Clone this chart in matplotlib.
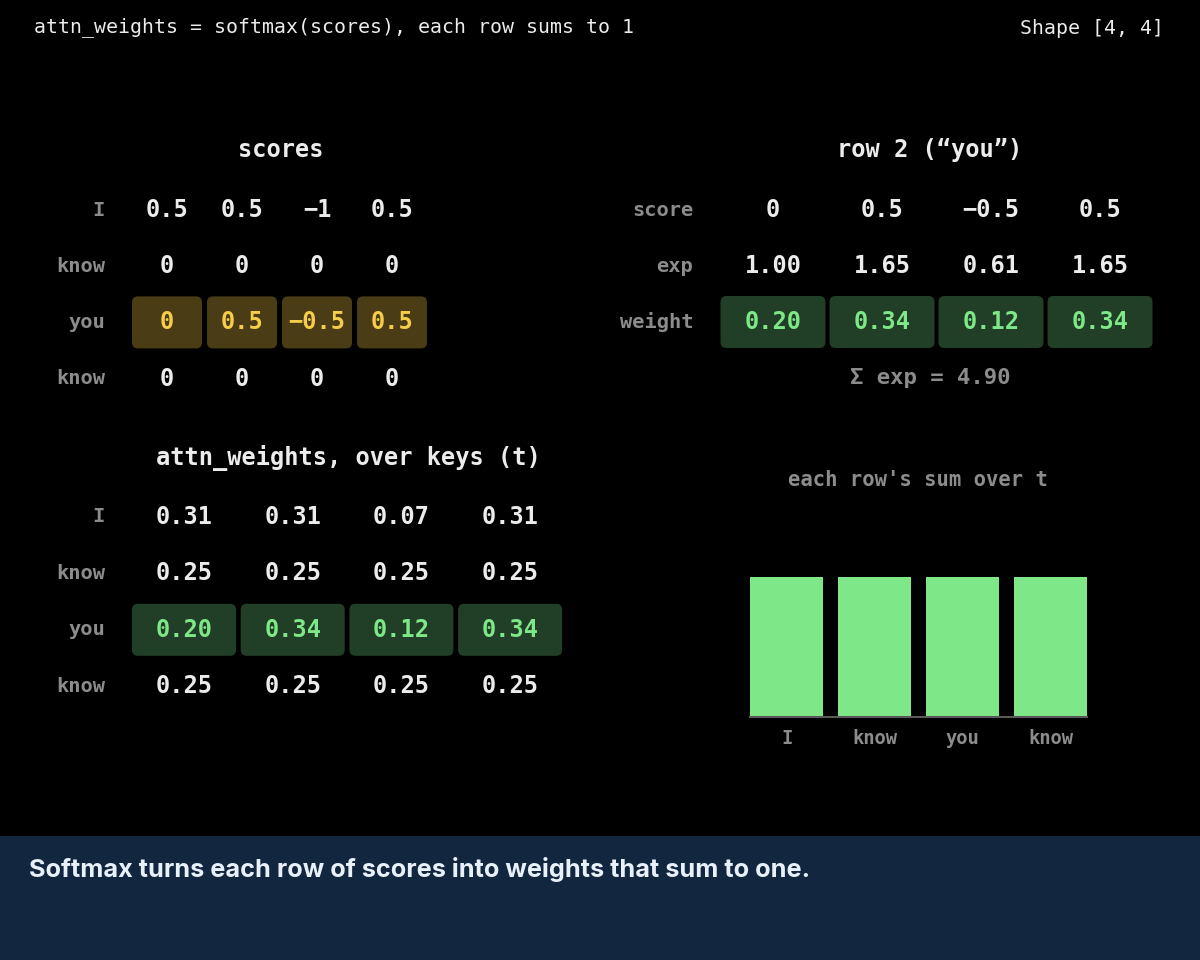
import matplotlib
matplotlib.use("Agg")
import matplotlib.pyplot as plt
from matplotlib.patches import FancyBboxPatch, Rectangle

# data
tokens = ["I", "know", "you", "know"]
scores = [[0.5, 0.5, -1, 0.5],
          [0, 0, 0, 0],
          [0, 0.5, -0.5, 0.5],
          [0, 0, 0, 0]]
attn_weights = [[0.31, 0.31, 0.07, 0.31],
                [0.25, 0.25, 0.25, 0.25],
                [0.20, 0.34, 0.12, 0.34],
                [0.25, 0.25, 0.25, 0.25]]
focus_row = 2
row_scores = [0, 0.5, -0.5, 0.5]
row_exp = [1.00, 1.65, 0.61, 1.65]
row_weight = [0.20, 0.34, 0.12, 0.34]
exp_sum = 4.90
row_sums = [1.0, 1.0, 1.0, 1.0]

# colours
BG = "#000000"
WHITE = "#ececec"
GRAY = "#8c8c8c"
YEL_BOX = "#4a3d15"
YEL_TXT = "#f5cd4a"
GRN_BOX = "#213f26"
GRN_TXT = "#7ee787"
BAND = "#12263f"
MONO = "DejaVu Sans Mono"


def fmt_score(v):
    s = ("%g" % v)
    return s.replace("-", "\u2212")


fig = plt.figure(figsize=(12, 9.6), dpi=100, facecolor=BG)
ax = fig.add_axes([0, 0, 1, 1])
ax.set_xlim(0, 1200)
ax.set_ylim(960, 0)
ax.axis("off")
ax.set_facecolor(BG)


def cell_box(cx, cy, w, h, color):
    ax.add_patch(FancyBboxPatch((cx - w / 2, cy - h / 2), w, h,
                                boxstyle="round,pad=0,rounding_size=6",
                                fc=color, ec="none", zorder=1))


# header
ax.text(34, 27, "attn_weights = softmax(scores), each row sums to 1",
        family=MONO, fontsize=14.3, color=WHITE, ha="left", va="center")
ax.text(1164, 28, "Shape [4, 4]", family=MONO, fontsize=14.3,
        color=WHITE, ha="right", va="center")

# scores matrix
ax.text(281, 150, "scores", family=MONO, fontsize=17, fontweight="bold",
        color=WHITE, ha="center", va="center")
sc_x0, sc_dx = 167, 75
sc_y0, sc_dy = 210, 56.2
for i, tok in enumerate(tokens):
    y = sc_y0 + i * sc_dy
    ax.text(105, y, tok, family=MONO, fontsize=14.7, fontweight="bold",
            color=GRAY, ha="right", va="center")
    for j, v in enumerate(scores[i]):
        x = sc_x0 + j * sc_dx
        col = WHITE
        if i == focus_row:
            cell_box(x, y, 70, 52, YEL_BOX)
            col = YEL_TXT
        ax.text(x, y, fmt_score(v), family=MONO, fontsize=17,
                fontweight="bold", color=col, ha="center", va="center", zorder=2)

# attn_weights matrix
ax.text(348, 458, "attn_weights, over keys (t)", family=MONO, fontsize=17,
        fontweight="bold", color=WHITE, ha="center", va="center")
aw_x0, aw_dx = 184, 108.7
aw_y0, aw_dy = 517, 56.4
for i, tok in enumerate(tokens):
    y = aw_y0 + i * aw_dy
    ax.text(105, y, tok, family=MONO, fontsize=14.7, fontweight="bold",
            color=GRAY, ha="right", va="center")
    for j, v in enumerate(attn_weights[i]):
        x = aw_x0 + j * aw_dx
        col = WHITE
        if i == focus_row:
            cell_box(x, y, 104, 52, GRN_BOX)
            col = GRN_TXT
        ax.text(x, y, "%.2f" % v, family=MONO, fontsize=17,
                fontweight="bold", color=col, ha="center", va="center", zorder=2)

# focused row breakdown
ax.text(930, 150, "row 2 (\u201c%s\u201d)" % tokens[focus_row], family=MONO,
        fontsize=17, fontweight="bold", color=WHITE, ha="center", va="center")
r_x0, r_dx = 773, 109
r_rows = [("score", [fmt_score(v) for v in row_scores]),
          ("exp", ["%.2f" % v for v in row_exp]),
          ("weight", ["%.2f" % v for v in row_weight])]
for i, (lab, vals) in enumerate(r_rows):
    y = 210 + i * 56
    ax.text(693, y, lab, family=MONO, fontsize=14.7, fontweight="bold",
            color=GRAY, ha="right", va="center")
    for j, s in enumerate(vals):
        x = r_x0 + j * r_dx
        col = WHITE
        if lab == "weight":
            cell_box(x, y, 105, 52, GRN_BOX)
            col = GRN_TXT
        ax.text(x, y, s, family=MONO, fontsize=17, fontweight="bold",
                color=col, ha="center", va="center", zorder=2)
ax.text(930, 378, "\u03a3 exp = %.2f" % exp_sum, family=MONO, fontsize=16,
        fontweight="bold", color=GRAY, ha="center", va="center")

# row sums bar chart
ax.text(918, 480, "each row's sum over t", family=MONO, fontsize=14.8,
        fontweight="bold", color=GRAY, ha="center", va="center")
bax = fig.add_axes([750 / 1200, (960 - 717) / 960, 337 / 1200, 170 / 960])
bax.set_facecolor("none")
bax.bar(range(len(row_sums)), row_sums, width=0.83, color=GRN_TXT)
bax.set_xlim(-0.415, len(row_sums) - 1 + 0.415)
bax.set_ylim(0, 170 / 140)
for s in ["top", "right", "left"]:
    bax.spines[s].set_visible(False)
bax.spines["bottom"].set_color("#5a5a5a")
bax.spines["bottom"].set_linewidth(1.5)
bax.set_yticks([])
bax.set_xticks(range(len(tokens)))
bax.set_xticklabels(tokens, family=MONO, fontsize=13.5, fontweight="bold",
                    color=GRAY)
bax.tick_params(axis="x", length=0, pad=9)

# caption band
ax.add_patch(Rectangle((0, 836), 1200, 124, fc=BAND, ec="none"))
ax.text(29, 869, "Softmax turns each row of scores into weights that sum to one.",
        family="Inter", fontsize=18.2, fontweight="bold", color="#e8f0fa",
        ha="left", va="center")

fig.savefig("out.png", dpi=100, facecolor=BG)
